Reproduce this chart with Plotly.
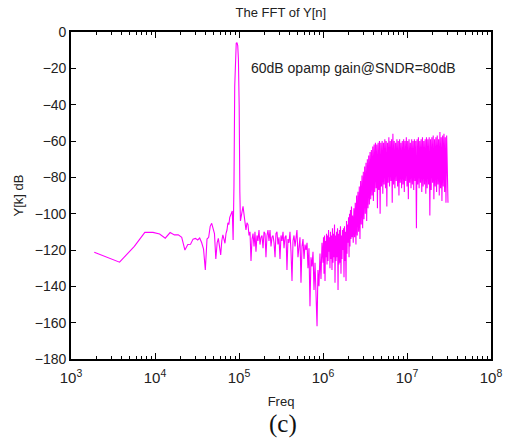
import plotly.graph_objects as go

# ---- data (log10 of frequency in Hz, and magnitude in dB) ----
low_log_freq = [3.277, 3.578, 3.754, 3.879, 3.976, 4.055, 4.122, 4.180, 4.231, 4.277,
                4.318, 4.356, 4.391, 4.423, 4.453, 4.481, 4.508, 4.532, 4.556, 4.578,
                4.599, 4.619, 4.639, 4.657, 4.675, 4.692, 4.708, 4.724, 4.740, 4.754,
                4.768, 4.782, 4.795, 4.808, 4.821, 4.833, 4.845, 4.857, 4.868, 4.879,
                4.890, 4.900, 4.911, 4.920, 4.930, 4.940, 4.949, 4.958, 4.967, 4.976,
                4.985, 4.993, 5.002, 5.010, 5.017]
low_db = [-121.3, -126.7, -118.0, -110.3, -110.3, -111.2, -113.5, -110.4, -111.7, -111.7,
          -113.0, -120.0, -117.0, -116.8, -114.0, -113.6, -114.5, -113.4, -116.0, -119.5,
          -131.0, -114.0, -113.0, -107.0, -105.3, -108.0, -111.0, -125.0, -116.0, -113.6,
          -119.0, -122.7, -115.0, -111.7, -114.0, -116.3, -111.0, -109.0, -105.0, -106.0,
          -102.0, -101.0, -99.5, -98.5, -114.5, -85.0, -30.0, -11.0, -6.2, -5.8,
          -7.5, -15.0, -40.0, -88.0, -104.0]

mid_log_freq = [5.048, 5.060, 5.071, 5.083, 5.095, 5.107, 5.119, 5.131, 5.143, 5.155,
                5.167, 5.179, 5.190, 5.202, 5.214, 5.226, 5.238, 5.250, 5.262, 5.274,
                5.286, 5.298, 5.310, 5.321, 5.333, 5.345, 5.357, 5.369, 5.381, 5.393,
                5.405, 5.417, 5.429, 5.440, 5.452, 5.464, 5.476, 5.488, 5.500, 5.512,
                5.524, 5.536, 5.548, 5.560, 5.571, 5.583, 5.595, 5.607, 5.619, 5.631,
                5.643, 5.655, 5.667, 5.679, 5.690, 5.702, 5.714, 5.726, 5.738, 5.750,
                5.762, 5.774, 5.786, 5.798, 5.810, 5.821, 5.833, 5.845, 5.857, 5.869,
                5.881, 5.893, 5.905, 5.917, 5.929, 5.940, 5.952, 5.964, 5.976, 5.988,
                6.000, 6.006, 6.012, 6.018, 6.024, 6.030, 6.036, 6.042, 6.048, 6.054,
                6.060, 6.066, 6.071, 6.077, 6.083, 6.089, 6.095, 6.101, 6.107, 6.113,
                6.119, 6.125, 6.131, 6.137, 6.143, 6.149, 6.155, 6.161, 6.167, 6.173,
                6.179, 6.185, 6.190, 6.196, 6.202, 6.208, 6.214, 6.220, 6.226, 6.232,
                6.238, 6.244, 6.250, 6.256, 6.262, 6.268, 6.274, 6.280, 6.286, 6.292,
                6.298, 6.304, 6.310, 6.316, 6.321, 6.327, 6.333, 6.339, 6.345]
mid_db = [-96, -100, -104, -109, -105, -106, -112, -110, -126, -114,
          -111, -118, -110, -121, -112, -115, -109, -117, -113, -112,
          -119, -110, -111, -124, -112, -109, -115, -109, -118, -113,
          -112, -116, -124, -111, -110, -117, -113, -125, -112, -115,
          -110, -119, -113, -112, -131, -114, -116, -110, -121, -137,
          -115, -112, -118, -114, -109, -124, -116, -113, -138, -118,
          -114, -125, -117, -120, -116, -130, -119, -151, -124, -129,
          -121, -142, -127, -146, -162, -131, -140, -122, -136, -116,
          -127, -113, -133, -112, -137, -115, -124, -111, -128, -112,
          -126, -109, -121, -113, -130, -110, -125, -112, -131, -108,
          -127, -111, -124, -106, -138, -112, -126, -110, -124, -108,
          -142, -111, -128, -109, -127, -107, -133, -112, -125, -109,
          -120, -108, -135, -107, -126, -110, -137, -104, -122, -106,
          -116, -102, -124, -100, -118, -98, -114, -96, -113]

high_log_freq = [6.352, 6.360, 6.368, 6.376, 6.384, 6.392, 6.400, 6.408, 6.416, 6.424,
                 6.432, 6.440, 6.448, 6.456, 6.464, 6.472, 6.480, 6.488, 6.496, 6.504,
                 6.512, 6.520, 6.528, 6.536, 6.544, 6.552, 6.560, 6.568, 6.576, 6.584,
                 6.592, 6.600, 6.608, 6.616, 6.624, 6.632, 6.640, 6.648, 6.656, 6.664,
                 6.672, 6.680, 6.688, 6.696, 6.704, 6.712, 6.720, 6.728, 6.736, 6.744,
                 6.752, 6.760, 6.768, 6.776, 6.784, 6.792, 6.800, 6.808, 6.816, 6.824,
                 6.832, 6.840, 6.848, 6.856, 6.864, 6.872, 6.880, 6.888, 6.896, 6.904,
                 6.912, 6.920, 6.928, 6.936, 6.944, 6.952, 6.960, 6.968, 6.976, 6.984,
                 6.992, 7.000, 7.008, 7.016, 7.024, 7.032, 7.040, 7.048, 7.056, 7.064,
                 7.072, 7.080, 7.088, 7.096, 7.104, 7.112, 7.120, 7.128, 7.136, 7.144,
                 7.152, 7.160, 7.168, 7.176, 7.184, 7.192, 7.200, 7.208, 7.216, 7.224,
                 7.232, 7.240, 7.248, 7.256, 7.264, 7.272, 7.280, 7.288, 7.296, 7.304,
                 7.312, 7.320, 7.328, 7.336, 7.344, 7.352, 7.360, 7.368, 7.376, 7.384,
                 7.392, 7.400, 7.408, 7.416, 7.424, 7.432, 7.440, 7.448, 7.456, 7.464,
                 7.472, 7.480, 7.488]
high_db = [-101, -116, -97, -113, -94, -117, -90, -112, -88, -110,
           -85, -114, -82, -106, -79, -108, -77, -103, -74, -100,
           -72, -104, -70, -97, -68, -95, -66, -92, -65, -90,
           -63, -93, -62, -88, -61, -86, -62, -97, -61, -87,
           -60, -100, -61, -85, -60, -89, -61, -84, -59, -86,
           -60, -96, -61, -83, -58, -85, -60, -82, -59, -94,
           -56, -84, -60, -86, -61, -82, -59, -85, -60, -90,
           -59, -83, -61, -86, -60, -84, -59, -88, -60, -82,
           -58, -85, -60, -92, -59, -83, -61, -86, -59, -84,
           -60, -87, -59, -82, -60, -108, -59, -84, -58, -86,
           -60, -83, -59, -88, -58, -85, -60, -84, -59, -89,
           -58, -86, -59, -84, -58, -101, -59, -87, -58, -83,
           -57, -92, -59, -85, -58, -88, -57, -84, -59, -90,
           -55, -86, -58, -93, -57, -85, -56, -88, -58, -94,
           -57, -86, -94]

log_freq = low_log_freq + mid_log_freq + high_log_freq
mag_db = low_db + mid_db + high_db
freq = [10 ** e for e in log_freq]

y_ticks = [0, -20, -40, -60, -80, -100, -120, -140, -160, -180]
x_decades = [3, 4, 5, 6, 7, 8]
x_major = [10 ** p for p in x_decades]
x_labels = ["10<sup>%d</sup>" % p for p in x_decades]
x_minor = [m * 10 ** p for p in x_decades[:-1] for m in range(2, 10)]

fig = go.Figure()
fig.add_trace(go.Scatter(x=freq, y=mag_db, mode="lines",
                         line=dict(color="#FF00FF", width=1.1),
                         showlegend=False, hoverinfo="skip"))

font_main = "Arial, Liberation Sans, sans-serif"
txt = "#222"

fig.update_layout(
    width=506, height=443,
    margin=dict(l=71, r=15, t=32, b=84, autoexpand=False),
    paper_bgcolor="white", plot_bgcolor="white",
    font=dict(family=font_main, size=14, color=txt),
    title=dict(text="The FFT of Y[n]", x=0.555, xanchor="center", y=0.972,
               yanchor="middle", font=dict(size=13, family=font_main, color=txt)),
)

fig.update_xaxes(
    type="log", range=[3, 8], tickmode="array", tickvals=x_major, ticktext=x_labels,
    automargin=False, ticklabelstandoff=4,
    showline=True, linecolor="black", linewidth=1.6, mirror="ticks",
    ticks="inside", ticklen=6, tickwidth=1, tickcolor="black",
    minor=dict(tickmode="array", tickvals=x_minor, ticks="inside", ticklen=3,
               tickwidth=1, tickcolor="black", showgrid=False),
    showgrid=False, zeroline=False,
    tickfont=dict(size=15, family=font_main, color=txt),
    title=dict(text="Freq", font=dict(size=13, family=font_main, color=txt), standoff=12),
)
fig.update_yaxes(
    range=[-180, 0], tickvals=y_ticks, automargin=False,
    showline=True, linecolor="black", linewidth=1.6, mirror="ticks",
    ticks="inside", ticklen=5, tickwidth=1, tickcolor="black",
    showgrid=False, zeroline=False,
    tickfont=dict(size=14, family=font_main, color=txt),
    title=dict(text="Y[k] dB", font=dict(size=13, family=font_main, color=txt), standoff=8),
)

fig.add_annotation(text="60dB opamp gain@SNDR=80dB", xref="paper", yref="paper",
                   x=0.423, y=0.89, xanchor="left", yanchor="middle", showarrow=False,
                   font=dict(size=14, family=font_main, color=txt))
fig.add_annotation(text="(c)", xref="paper", yref="paper",
                   x=0.504, y=-0.2, xanchor="center", yanchor="middle", showarrow=False,
                   font=dict(size=25, family="Times New Roman, Liberation Serif, serif", color="#111"))

fig.write_html("out.html")
